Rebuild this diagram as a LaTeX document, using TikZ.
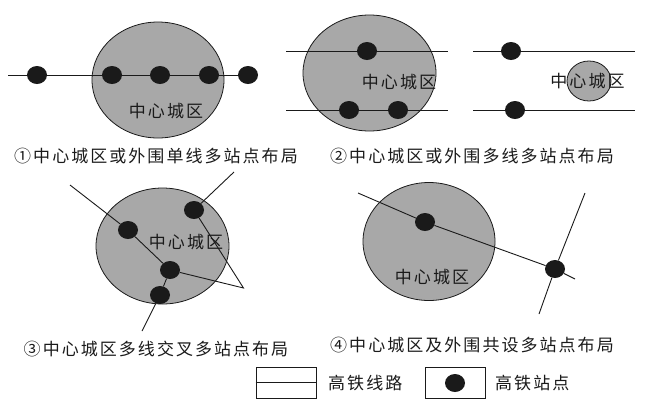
\documentclass[tikz,border=0pt]{standalone}
\usepackage{fontspec}
\usetikzlibrary{shapes.geometric}
\newfontfamily\cnfont[LetterSpace=12]{Noto Sans CJK SC}
\definecolor{citygray}{HTML}{a8a8a8}
\definecolor{stationblack}{HTML}{1a1a1a}
\tikzset{
  city/.style={ellipse, draw=stationblack, fill=citygray, line width=0.8pt, inner sep=0pt},
  station/.style={ellipse, fill=stationblack, minimum width=20pt, minimum height=18pt, inner sep=0pt},
  rail/.style={stationblack, line width=0.9pt},
  label/.style={font=\cnfont\fontsize{17}{17}\selectfont, text=stationblack, inner sep=0pt},
  legendbox/.style={draw=stationblack, line width=0.9pt, minimum width=60pt, minimum height=31pt, inner sep=0pt}
}

\begin{document}
\begin{tikzpicture}[x=1pt, y=-1pt]
    \useasboundingbox (0,0) rectangle (663,410);

    % --- panel 1: one line through the centre ---
    \node[city, minimum width=132pt, minimum height=116pt] (cityA) at (158,80) {};
    \coordinate (railA) at (8,75);
    \foreach \n/\x in {A1/37, A2/112, A3/160, A4/209, A5/248} {
      \node[station] (st\n) at (\x,75) {};
    }
    \draw[rail] (railA) -- (stA1) -- (stA2) -- (stA3) -- (stA4) -- (stA5);
    \node[label] (nameA) at (166,111) {中心城区};
    \node[label] (capA) at (156,156) {①中心城区或外围单线多站点布局};

    % --- panel 2: two lines, two cities ---
    \node[city, minimum width=133pt, minimum height=116pt] (cityB) at (369.5,73) {};
    \coordinate (railB1) at (286,51);
    \coordinate (railB2) at (448,51);
    \coordinate (railB3) at (286,110);
    \coordinate (railB4) at (448,110);
    \node[station] (stB1) at (367,51) {};
    \node[station] (stB2) at (349,110) {};
    \node[station] (stB3) at (398,110) {};
    \draw[rail] (railB1) -- (stB1) -- (railB2);
    \draw[rail] (railB3) -- (stB2) -- (stB3) -- (railB4);
    \node[label] (nameB) at (399,82) {中心城区};

    \node[city, minimum width=44pt, minimum height=40pt] (cityC) at (589,81) {};
    \coordinate (railC1) at (473,51);
    \coordinate (railC2) at (635,51);
    \coordinate (railC3) at (473,110);
    \coordinate (railC4) at (635,110);
    \node[station] (stC1) at (511,51) {};
    \node[station] (stC2) at (515,110) {};
    \draw[rail] (railC1) -- (stC1) -- (railC2);
    \draw[rail] (railC3) -- (stC2) -- (railC4);
    \node[label] (nameC) at (587.5,81) {中心城区};
    \node[label] (capB) at (472,156) {②中心城区或外围多线多站点布局};

    % --- panel 3: crossing lines ---
    \node[city, minimum width=133pt, minimum height=116pt] (cityD) at (162.5,246) {};
    \coordinate (railD1) at (70,185);
    \coordinate (railD2) at (234,172);
    \coordinate (railD3) at (243.5,288);
    \coordinate (railD4) at (142,331);
    \foreach \n/\x/\y in {D1/128/230, D2/170/270, D3/160/295, D4/194/210} {
      \node[station] (st\n) at (\x,\y) {};
    }
    \draw[rail] (railD1) -- (stD1) -- (stD2) -- (stD3) -- (railD4);
    \draw[rail] (railD2) -- (stD4) -- (railD3) -- (stD2);
    \node[label] (nameD) at (186,242) {中心城区};
    \node[label] (capD) at (156,349) {③中心城区多线交叉多站点布局};

    % --- panel 4: one station inside, one outside ---
    \node[city, minimum width=132pt, minimum height=118pt] (cityE) at (429,241.5) {};
    \coordinate (railE1) at (358,193);
    \coordinate (railE2) at (575,279);
    \coordinate (railE3) at (585,193);
    \coordinate (railE4) at (539,314);
    \node[station] (stE1) at (425,222) {};
    \node[station] (stE2) at (555,269) {};
    \draw[rail] (railE1) -- (stE1) -- (stE2) -- (railE2);
    \draw[rail] (railE3) -- (stE2) -- (railE4);
    \node[label] (nameE) at (432,277) {中心城区};
    \node[label] (capE) at (472,345) {④中心城区及外围共设多站点布局};

    % --- legend ---
    \node[legendbox] (keyrail) at (286,382.5) {};
    \draw[rail] (keyrail.west) -- (keyrail.east);
    \node[label, anchor=west] (keyrailtxt) at (328,383) {高铁线路};
    \node[legendbox] (keystation) at (455,382.5) {};
    \node[station] (keydot) at (455,383) {};
    \node[label, anchor=west] (keystationtxt) at (495,383) {高铁站点};
  \end{tikzpicture}
\end{document}
